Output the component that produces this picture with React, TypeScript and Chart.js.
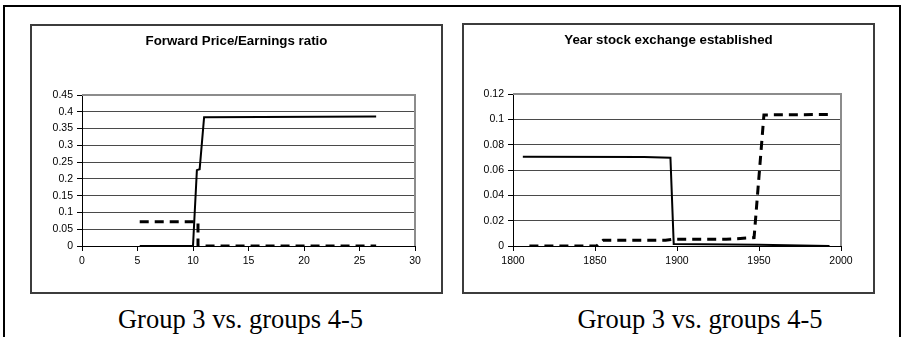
import React, { useEffect, useRef } from 'react';
import { Chart, registerables } from 'chart.js';

Chart.register(...registerables);

// ---- Left chart: Forward Price/Earnings ratio ----
const peTitle = 'Forward Price/Earnings ratio';
const peSolidX = [5.2, 10.0, 10.35, 10.6, 11.0, 26.5];
const peSolidY = [0, 0, 0.226, 0.229, 0.384, 0.386];
const peDashX = [5.2, 10.45, 10.45, 26.5];
const peDashY = [0.072, 0.072, 0, 0];
const peXTicks = [0, 5, 10, 15, 20, 25, 30];
const peYTicks = [0, 0.05, 0.1, 0.15, 0.2, 0.25, 0.3, 0.35, 0.4, 0.45];

// ---- Right chart: Year stock exchange established ----
const yrTitle = 'Year stock exchange established';
const yrSolidX = [1806, 1880, 1896, 1898, 1950, 1993];
const yrSolidY = [0.0705, 0.0703, 0.0697, 0.0015, 0.001, 0.0];
const yrDashX = [1810, 1851, 1855, 1893, 1897, 1930, 1947, 1953, 1993];
const yrDashY = [0, 0, 0.0045, 0.0045, 0.0053, 0.0053, 0.0066, 0.1035, 0.1038];
const yrXTicks = [1800, 1850, 1900, 1950, 2000];
const yrYTicks = [0, 0.02, 0.04, 0.06, 0.08, 0.1, 0.12];

const caption = 'Group 3 vs. groups 4-5';

const plotFrame = {
  id: 'plotFrame',
  beforeDatasetsDraw(chart: any) {
    const { ctx, chartArea: a } = chart;
    ctx.save();
    ctx.strokeStyle = '#8c8c8c';
    ctx.lineWidth = 2;
    ctx.beginPath();
    ctx.moveTo(a.left, a.top);
    ctx.lineTo(a.right, a.top);
    ctx.lineTo(a.right, a.bottom);
    ctx.stroke();
    ctx.restore();
  },
};

const zip = (xs: number[], ys: number[]) => xs.map((x, i) => ({ x, y: ys[i] }));
const fmt = (v: number) => String(Number(Number(v).toFixed(4)));

type PanelProps = {
  left: number;
  top: number;
  width: number;
  height: number;
  title: string;
  solidX: number[];
  solidY: number[];
  dashX: number[];
  dashY: number[];
  xTicks: number[];
  yTicks: number[];
  yAxisWidth: number;
  rightPad: number;
};

function Panel(p: PanelProps) {
  const ref = useRef<HTMLCanvasElement | null>(null);
  useEffect(() => {
    if (!ref.current) return;
    const xMin = p.xTicks[0];
    const xMax = p.xTicks[p.xTicks.length - 1];
    const yMin = p.yTicks[0];
    const yMax = p.yTicks[p.yTicks.length - 1];
    const chart = new Chart(ref.current, {
      type: 'line',
      data: {
        datasets: [
          {
            data: zip(p.solidX, p.solidY),
            borderColor: '#000',
            borderWidth: 2,
            pointRadius: 0,
            tension: 0,
            fill: false,
          },
          {
            data: zip(p.dashX, p.dashY),
            borderColor: '#000',
            borderWidth: 3,
            borderDash: [9, 6],
            pointRadius: 0,
            tension: 0,
            fill: false,
          },
        ],
      },
      options: {
        animation: false,
        responsive: false,
        maintainAspectRatio: false,
        events: [],
        layout: { padding: 0 },
        plugins: {
          legend: { display: false },
          tooltip: { enabled: false },
          title: {
            display: true,
            text: p.title,
            color: '#000',
            font: { family: 'Liberation Sans', size: 13.3, weight: 'bold', lineHeight: 1.2 },
            padding: { top: 9.7, bottom: 45.34 },
          },
        },
        scales: {
          x: {
            type: 'linear',
            min: xMin,
            max: xMax,
            afterBuildTicks: (s: any) => {
              s.ticks = p.xTicks.map((v) => ({ value: v }));
            },
            afterFit: (s: any) => {
              s.height = 48;
            },
            grid: {
              display: true,
              drawOnChartArea: false,
              drawTicks: true,
              tickLength: 5,
              color: '#000',
              tickColor: '#000',
            },
            border: { display: true, color: '#000', width: 1 },
            ticks: {
              color: '#000',
              font: { family: 'Liberation Sans', size: 10.5 },
              padding: 4,
              maxRotation: 0,
              autoSkip: false,
              callback: (v: any) => fmt(v),
            },
          },
          y: {
            type: 'linear',
            min: yMin,
            max: yMax,
            afterBuildTicks: (s: any) => {
              s.ticks = p.yTicks.map((v) => ({ value: v }));
            },
            afterFit: (s: any) => {
              s.width = p.yAxisWidth;
            },
            grid: {
              display: true,
              drawOnChartArea: true,
              drawTicks: true,
              tickLength: 5,
              color: '#4a4a4a',
              tickColor: '#000',
              lineWidth: 1,
            },
            border: { display: true, color: '#000', width: 1 },
            ticks: {
              color: '#000',
              font: { family: 'Liberation Sans', size: 10.5 },
              padding: 4,
              autoSkip: false,
              callback: (v: any) => fmt(v),
            },
          },
          // empty spacer on the right so the title stays centred on the box
          spacer: {
            type: 'linear',
            position: 'right',
            display: true,
            min: 0,
            max: 1,
            grid: { display: false, drawOnChartArea: false, drawTicks: false },
            border: { display: false },
            ticks: { display: false },
            afterFit: (s: any) => {
              s.width = p.rightPad;
            },
          },
        },
      },
      plugins: [plotFrame],
    } as any);
    return () => chart.destroy();
  }, []);

  return (
    <>
      <canvas
        ref={ref}
        width={p.width}
        height={p.height}
        style={{ position: 'absolute', left: p.left, top: p.top, width: p.width, height: p.height }}
      />
      <div
        style={{
          position: 'absolute',
          left: p.left,
          top: p.top,
          width: p.width,
          height: p.height,
          boxSizing: 'border-box',
          border: '2px solid #3c3c3c',
          pointerEvents: 'none',
        }}
      />
    </>
  );
}

export default function App() {
  const capStyle: React.CSSProperties = {
    position: 'absolute',
    top: 304,
    fontFamily: '"Liberation Serif", "Times New Roman", serif',
    fontSize: 26.5,
    lineHeight: 'normal',
    color: '#000',
    textAlign: 'center',
    whiteSpace: 'nowrap',
  };
  return (
    <div
      style={{
        position: 'fixed',
        left: 0,
        top: 0,
        width: 901,
        height: 337,
        background: '#fff',
        overflow: 'hidden',
      }}
    >
      <div
        style={{
          position: 'absolute',
          left: 3,
          top: 5,
          width: 898,
          height: 400,
          boxSizing: 'border-box',
          borderTop: '2px solid #000',
          borderLeft: '2px solid #000',
          borderRight: '2px solid #000',
        }}
      />
      <Panel
        left={30}
        top={24}
        width={413}
        height={270}
        title={peTitle}
        solidX={peSolidX}
        solidY={peSolidY}
        dashX={peDashX}
        dashY={peDashY}
        xTicks={peXTicks}
        yTicks={peYTicks}
        yAxisWidth={52}
        rightPad={28}
      />
      <Panel
        left={462}
        top={23}
        width={413}
        height={271}
        title={yrTitle}
        solidX={yrSolidX}
        solidY={yrSolidY}
        dashX={yrDashX}
        dashY={yrDashY}
        xTicks={yrXTicks}
        yTicks={yrYTicks}
        yAxisWidth={51}
        rightPad={34}
      />
      <div style={{ ...capStyle, left: 0, width: 481 }}>{caption}</div>
      <div style={{ ...capStyle, left: 500, width: 400 }}>{caption}</div>
    </div>
  );
}
